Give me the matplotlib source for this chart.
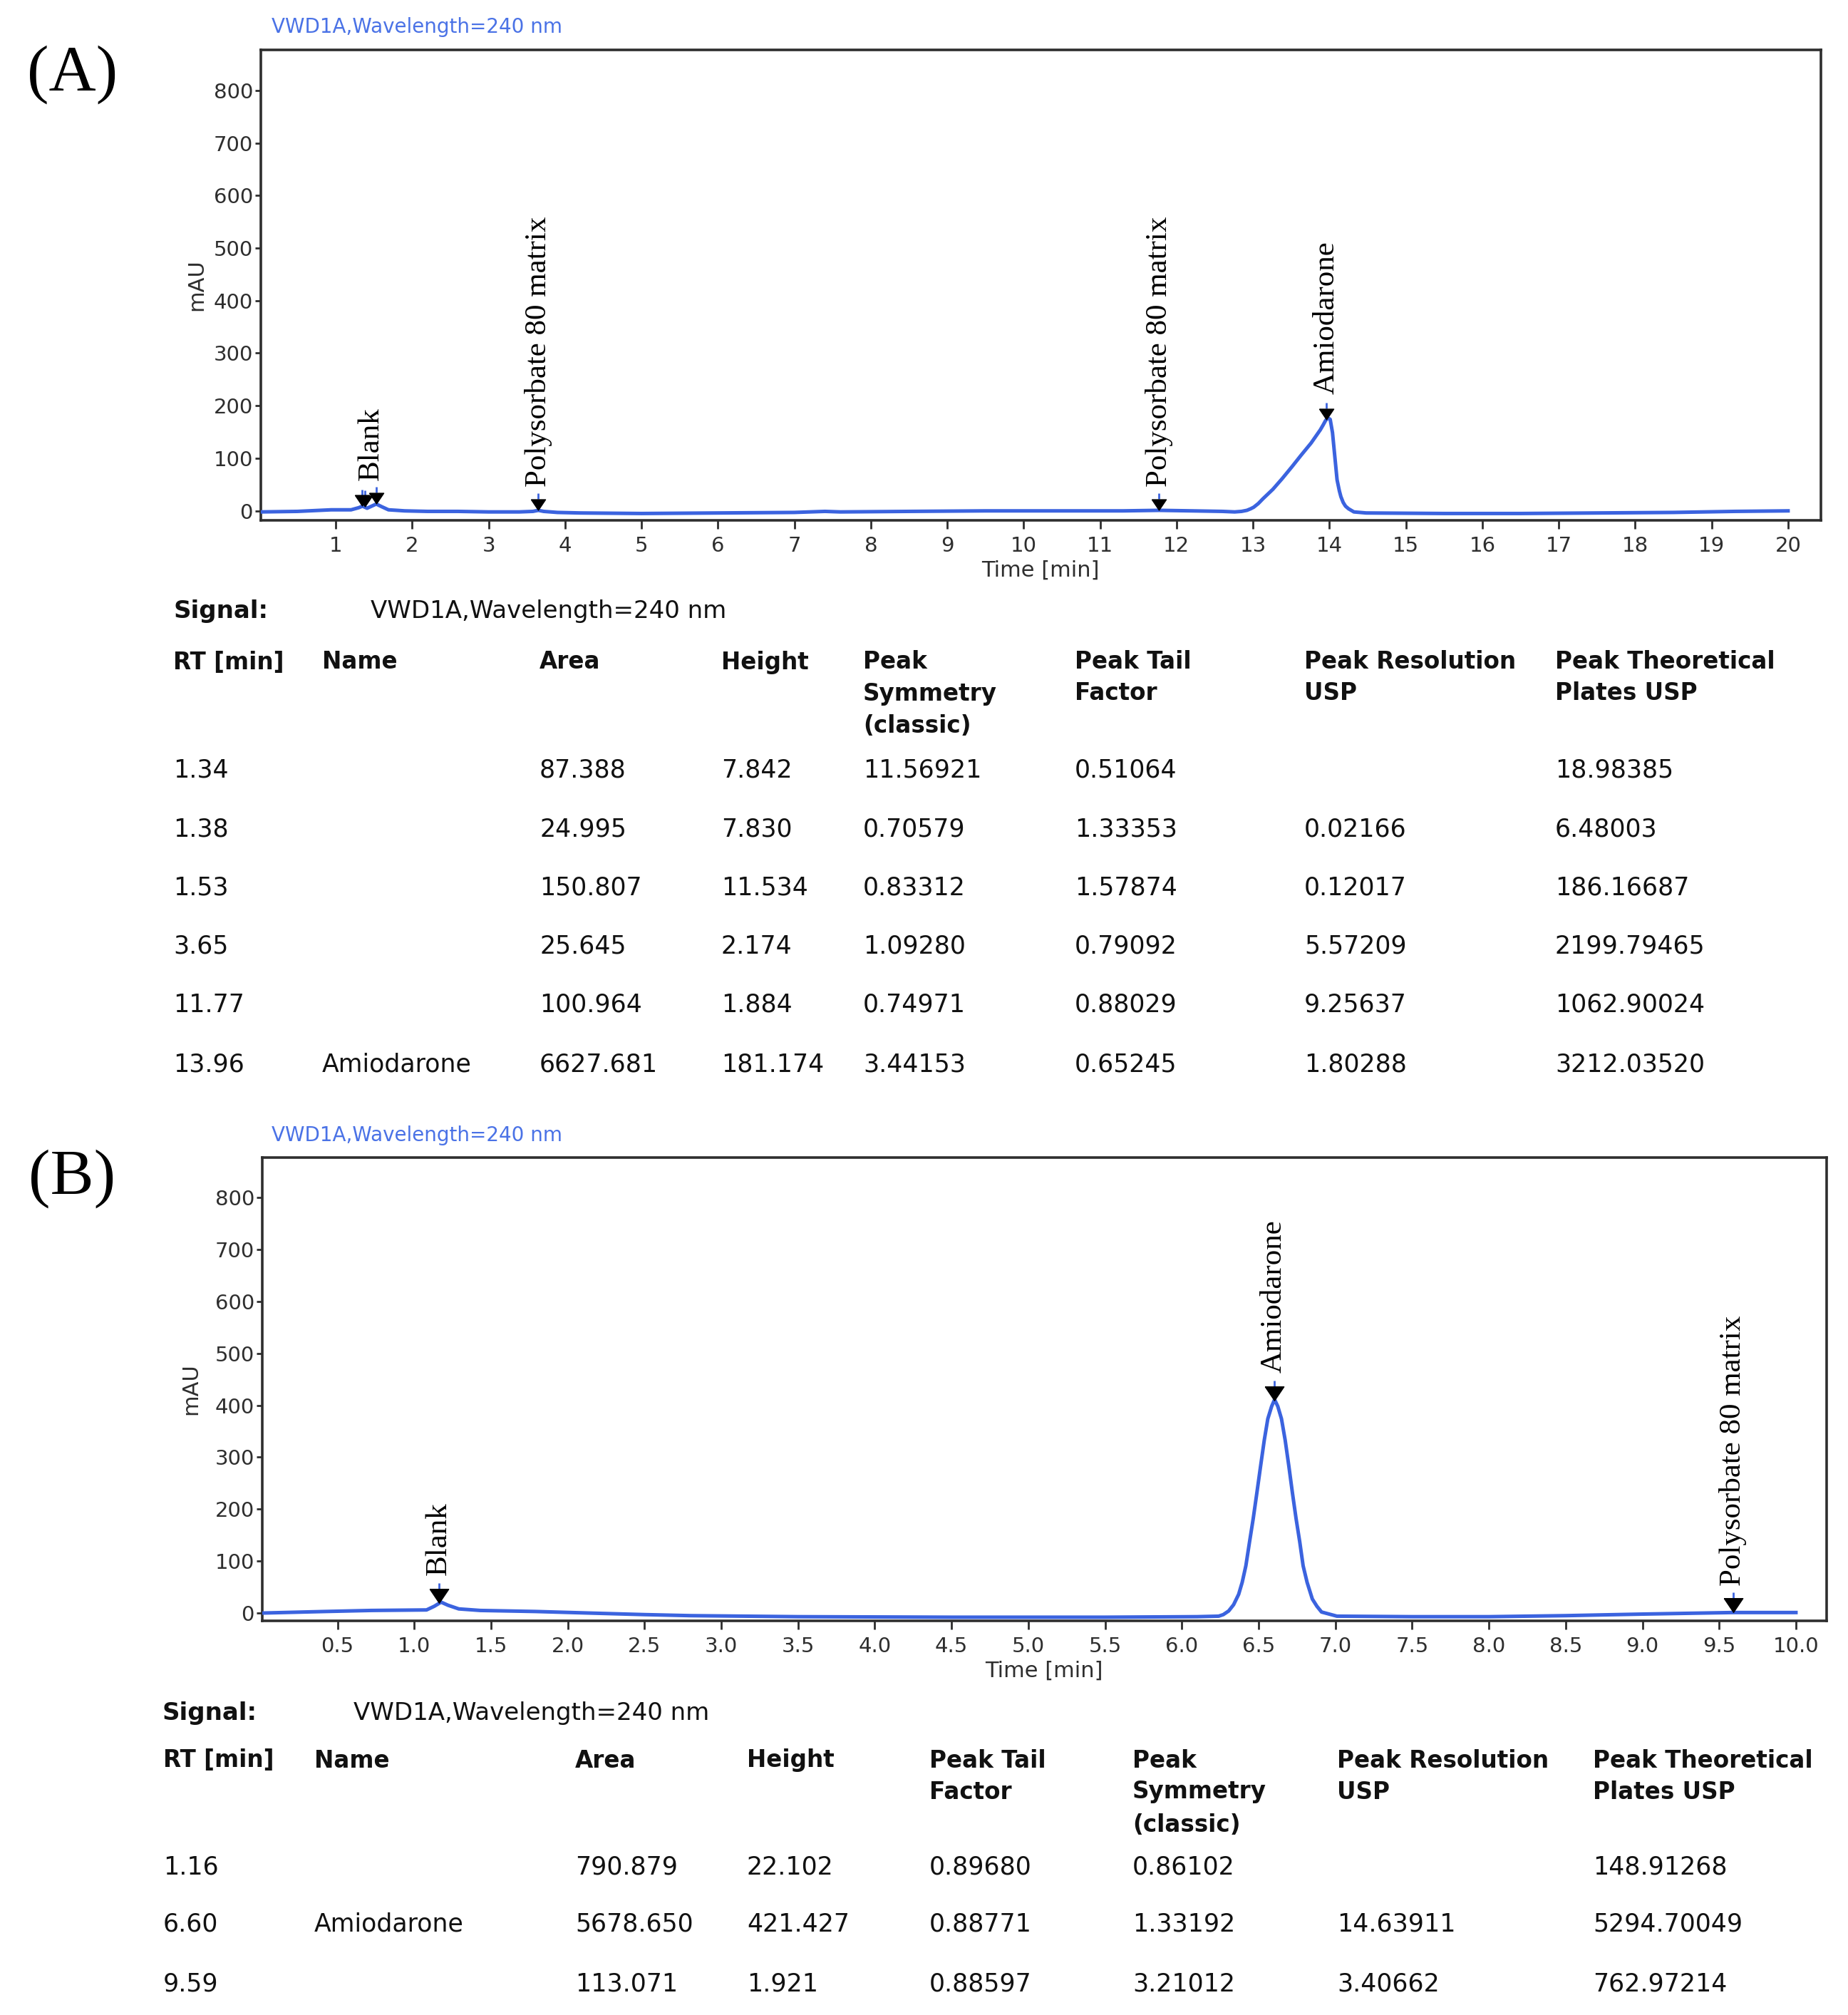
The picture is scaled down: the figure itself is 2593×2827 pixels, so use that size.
import numpy as np
import matplotlib
matplotlib.use("Agg")
import matplotlib.pyplot as plt
from matplotlib.transforms import offset_copy

# ---------------- data ----------------
signal_name = "VWD1A,Wavelength=240 nm"

# Panel A chromatogram (time [min], mAU)
time_a = [0.02, 0.5, 0.94, 1.2, 1.30, 1.35, 1.41, 1.47, 1.53, 1.60, 1.69, 1.80, 1.90,
          2.2, 2.6, 3.0, 3.4, 3.58, 3.65, 3.72, 3.9, 4.2, 5.0, 6.0, 7.0, 7.4, 7.6, 8.5,
          9.5, 10.5, 11.3, 11.77, 12.2, 12.6, 12.76, 12.85, 12.92, 12.97, 13.01, 13.07,
          13.13, 13.26, 13.38, 13.51, 13.63, 13.76, 13.88, 13.92, 13.95, 13.98, 14.01,
          14.04, 14.07, 14.10, 14.13, 14.15, 14.18, 14.21, 14.25, 14.32, 14.48, 15.5,
          16.5, 17.5, 18.5, 19.3, 20.0]
mau_a = [-2, -1, 2, 2, 6, 9, 5, 9, 13, 8, 2, 1, 0,
         -1, -1, -2, -2, -1, 1, -1, -3, -4, -5, -4, -3, -1, -2, -1,
         0, 0, 0, 1, 0, -1, -2, -1, 1, 4, 7, 14,
         23, 41, 61, 84, 106, 129, 154, 164, 172, 177, 174,
         149, 104, 59, 38, 27, 16, 9, 4, -2, -4, -5,
         -5, -4, -3, -1, 0]

# Panel B chromatogram
time_b = [0.01, 0.42, 0.72, 1.08, 1.13, 1.175, 1.22, 1.29, 1.43, 1.79, 2.14, 2.5, 2.8,
          3.5, 4.5, 5.5, 6.1, 6.24, 6.27, 6.305, 6.337, 6.37, 6.393, 6.417, 6.441, 6.465,
          6.489, 6.513, 6.537, 6.56, 6.585, 6.604, 6.625, 6.649, 6.673, 6.697, 6.72,
          6.744, 6.768, 6.79, 6.816, 6.85, 6.88, 6.91, 7.01, 7.5, 8.0, 8.5, 9.0, 9.59, 10.0]
mau_b = [0, 3, 5, 6, 13, 21, 15, 8, 5, 3, 0, -3, -5,
         -7, -8, -8, -7, -6, -3, 4, 16, 36, 59, 91, 137, 182,
         232, 283, 333, 374, 398, 411, 398, 374, 333, 283, 232,
         182, 137, 91, 59, 27, 13, 2, -6, -7, -7, -5, -2, 1, 1]

# integrated peaks (retention times) and peak labels
peaks_a = [1.34, 1.38, 1.53, 3.65, 11.77, 13.96]
labels_a = ["Blank", "Polysorbate 80 matrix", "Polysorbate 80 matrix", "Amiodarone"]
label_x_a = [1.46, 3.65, 11.77, 13.96]
label_ref_a = [13, 1, 1, 177]

peaks_b = [1.16, 6.60, 9.59]
labels_b = ["Blank", "Amiodarone", "Polysorbate 80 matrix"]
label_x_b = [1.16, 6.60, 9.59]
label_ref_b = [21, 411, 1]

xticks_a = list(range(1, 21))
xticks_b = [0.5 * i for i in range(1, 21)]
yticks = [0, 100, 200, 300, 400, 500, 600, 700, 800]

# tables
header_a = ["RT [min]", "Name", "Area", "Height", "Peak\nSymmetry\n(classic)",
            "Peak Tail\nFactor", "Peak Resolution\nUSP", "Peak Theoretical\nPlates USP"]
rows_a = [
    ["1.34", "", "87.388", "7.842", "11.56921", "0.51064", "", "18.98385"],
    ["1.38", "", "24.995", "7.830", "0.70579", "1.33353", "0.02166", "6.48003"],
    ["1.53", "", "150.807", "11.534", "0.83312", "1.57874", "0.12017", "186.16687"],
    ["3.65", "", "25.645", "2.174", "1.09280", "0.79092", "5.57209", "2199.79465"],
    ["11.77", "", "100.964", "1.884", "0.74971", "0.88029", "9.25637", "1062.90024"],
    ["13.96", "Amiodarone", "6627.681", "181.174", "3.44153", "0.65245", "1.80288", "3212.03520"],
]
header_b = ["RT [min]", "Name", "Area", "Height", "Peak Tail\nFactor",
            "Peak\nSymmetry\n(classic)", "Peak Resolution\nUSP", "Peak Theoretical\nPlates USP"]
rows_b = [
    ["1.16", "", "790.879", "22.102", "0.89680", "0.86102", "", "148.91268"],
    ["6.60", "Amiodarone", "5678.650", "421.427", "0.88771", "1.33192", "14.63911", "5294.70049"],
    ["9.59", "", "113.071", "1.921", "0.88597", "3.21012", "3.40662", "762.97214"],
]

# ---------------- styling / layout ----------------
W, H = 2593, 2827
DPI = 100
fig = plt.figure(figsize=(W / DPI, H / DPI), dpi=DPI)
fig.patch.set_facecolor("white")

LINE = "#3B63DF"
TITLE_BLUE = "#4A72E6"
GRAY = "#2E2E2E"
SERIF = ["Liberation Serif", "DejaVu Serif"]
SANS = ["DejaVu Sans"]


def rect(l, t, r, b):
    return [l / W, 1 - b / H, (r - l) / W, (b - t) / H]


def ftext(x, y, s, **kw):
    fig.text(x / W, 1 - y / H, s, **kw)


tri = [(-1.35, 1.0), (1.35, 1.0), (0.0, -1.0), (-1.35, 1.0)]


def style_axes(ax, xlim, ylim, xticks, fmt):
    ax.set_xlim(*xlim)
    ax.set_ylim(*ylim)
    ax.set_xticks(xticks)
    ax.set_xticklabels([fmt(v) for v in xticks])
    ax.set_yticks(yticks)
    ax.set_yticklabels([str(v) for v in yticks])
    for sp in ax.spines.values():
        sp.set_color(GRAY)
        sp.set_linewidth(2.6)
    ax.tick_params(axis="y", direction="out", length=6, width=2, pad=2,
                   labelsize=21, colors=GRAY, labelcolor=GRAY)
    ax.tick_params(axis="x", direction="out", length=8.5, width=2, pad=7,
                   labelsize=21, colors=GRAY, labelcolor=GRAY)
    for lab in ax.get_xticklabels() + ax.get_yticklabels():
        lab.set_family(SANS)


def mark_peaks(ax, times, vals, rts, ms):
    h_pts = ms * (2.0 / 2.7)
    trans_tri = offset_copy(ax.transData, fig=fig, y=h_pts / 2 + 0.5, units="points")
    trans_stem = offset_copy(ax.transData, fig=fig, y=h_pts + 3.5, units="points")
    ys = np.interp(rts, times, vals)
    ax.plot(rts, ys, linestyle="none", marker="|", ms=6, mew=2, color=LINE,
            transform=trans_stem, zorder=4)
    ax.plot(rts, ys, linestyle="none", marker=tri, ms=ms, color="black",
            markeredgecolor="black", transform=trans_tri, zorder=5)


def label_peaks(ax, labels, xs, refs, off):
    for lab, x, r in zip(labels, xs, refs):
        ax.annotate(lab, xy=(x, r), xytext=(0, off), textcoords="offset points",
                    rotation=90, ha="center", va="bottom", fontsize=31,
                    family=SERIF, color="black", zorder=6)


# ---------------- panel A ----------------
axA = fig.add_axes(rect(366, 70, 2555, 730))
axA.plot(time_a, mau_a, color=LINE, lw=3.6, solid_joinstyle="round", zorder=3)
style_axes(axA, (0.02, 20.43), (-18, 877), xticks_a, lambda v: str(int(v)))
mark_peaks(axA, time_a, mau_a, peaks_a, 14.5)
label_peaks(axA, labels_a, label_x_a, label_ref_a, 24)

ftext(381, 38, signal_name, color=TITLE_BLUE, fontsize=20, ha="left", va="center", family=SANS)
ftext(276, 400, "mAU", rotation=90, fontsize=22, ha="center", va="center", color=GRAY, family=SANS)
ftext(1460, 800, "Time [min]", fontsize=22, ha="center", va="center", color=GRAY, family=SANS)
ftext(38, 105, "(A)", fontsize=66, ha="left", va="center", family=SERIF)

# ---------------- panel B ----------------
axB = fig.add_axes(rect(368, 1624, 2563, 2274))
axB.plot(time_b, mau_b, color=LINE, lw=3.6, solid_joinstyle="round", zorder=3)
style_axes(axB, (0.01, 10.2), (-15, 877), xticks_b, lambda v: f"{v:.1f}")
mark_peaks(axB, time_b, mau_b, peaks_b, 19)
label_peaks(axB, labels_b, label_x_b, label_ref_b, 27)

ftext(381, 1593, signal_name, color=TITLE_BLUE, fontsize=20, ha="left", va="center", family=SANS)
ftext(268, 1949, "mAU", rotation=90, fontsize=22, ha="center", va="center", color=GRAY, family=SANS)
ftext(1465, 2344, "Time [min]", fontsize=22, ha="center", va="center", color=GRAY, family=SANS)
ftext(40, 1654, "(B)", fontsize=66, ha="left", va="center", family=SERIF)


# ---------------- tables ----------------
def draw_table(sig_xy, sig_val_x, cols_x, header, head_y, rows, rows_y):
    ftext(sig_xy[0], sig_xy[1], "Signal:", fontsize=24.5, fontweight="bold",
          ha="left", va="center", color="#111111", family=SANS)
    ftext(sig_val_x, sig_xy[1], signal_name, fontsize=24.5, ha="left", va="center",
          color="#111111", family=SANS)
    for x, h in zip(cols_x, header):
        for k, line in enumerate(h.split("\n")):
            ftext(x, head_y[k], line, fontsize=23.5, fontweight="bold", ha="left",
                  va="center", color="#111111", family=SANS)
    for y, row in zip(rows_y, rows):
        for x, cell in zip(cols_x, row):
            if cell:
                ftext(x, y, cell, fontsize=25, ha="left", va="center",
                      color="#111111", family=SANS)


draw_table((243, 857), 520, [243, 452, 757, 1012, 1211, 1508, 1830, 2182],
           header_a, [929, 973, 1019], rows_a, [1081, 1163, 1245, 1328, 1410, 1493])
draw_table((228, 2403), 496, [229, 441, 807, 1048, 1304, 1589, 1876, 2235],
           header_b, [2470, 2514, 2560], rows_b, [2620, 2700, 2783])

fig.savefig("out.png", dpi=DPI, facecolor="white")
